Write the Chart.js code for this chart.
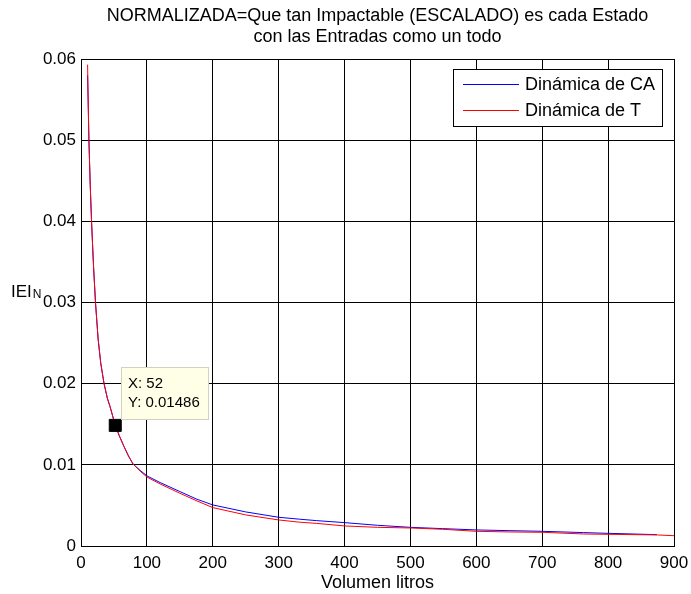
<!DOCTYPE html>
<html>
<head>
<meta charset="utf-8">
<script src="https://cdn.jsdelivr.net/npm/chart.js@4/dist/chart.umd.min.js"></script>
<style>
  body { margin: 0; background: #ffffff; }
  #wrap { width: 691px; height: 594px; }
</style>
</head>
<body>
<div id="wrap"><canvas id="chart" width="691" height="594"></canvas></div>
<script>
const titleLines = ["NORMALIZADA=Que tan Impactable (ESCALADO) es cada Estado", "con las Entradas como un todo"];

const caX = [10, 12, 14, 16, 19, 22, 26, 30, 35, 40, 44, 52, 58, 65, 72, 79, 90, 100, 120, 150, 176, 200, 250, 300, 332, 357, 400, 450, 500, 549, 600, 651, 700, 763, 800, 874];
const caY = [0.0580, 0.0500, 0.0445, 0.0400, 0.0345, 0.0300, 0.0255, 0.0225, 0.0200, 0.0182, 0.0172, 0.01486, 0.0136, 0.0123, 0.0111, 0.0101, 0.0093, 0.00864, 0.00782, 0.00671, 0.00576, 0.00506, 0.00420, 0.00354, 0.00330, 0.00313, 0.00288, 0.00255, 0.00230, 0.00214, 0.00198, 0.00189, 0.00181, 0.00165, 0.00156, 0.00140];

const tX = [10, 12, 14, 16, 19, 22, 26, 30, 35, 40, 44, 52, 58, 65, 72, 79, 90, 100, 120, 150, 176, 200, 250, 300, 332, 357, 400, 450, 500, 549, 600, 651, 700, 763, 800, 875, 900];
const tY = [0.0593, 0.0500, 0.0445, 0.0400, 0.0345, 0.0300, 0.0255, 0.0225, 0.0200, 0.0182, 0.0172, 0.01486, 0.0136, 0.0123, 0.0111, 0.0101, 0.0092, 0.00850, 0.00765, 0.00650, 0.00555, 0.00473, 0.00383, 0.00321, 0.00293, 0.00279, 0.00247, 0.00230, 0.00222, 0.00206, 0.00181, 0.00173, 0.00169, 0.00148, 0.00144, 0.00136, 0.00127];

const tipX = 52;
const tipY = 0.01486;

const xTickLabels = ["0", "100", "200", "300", "400", "500", "600", "700", "800", "900"];
const yTickLabels = ["0", "0.01", "0.02", "0.03", "0.04", "0.05", "0.06"];

const FONT = "'Liberation Sans', Arial, sans-serif";

function toPoints(xs, ys) {
    return xs.map((x, i) => ({ x: x, y: ys[i] }));
}

const legendBox = {
    id: "legendBox",
    afterDraw(chart) {
        const ctx = chart.ctx;
        const area = chart.chartArea;
        const w = 209, h = 57;
        const left = area.right - 12 - w;
        const top = area.top + 10;
        ctx.save();
        ctx.fillStyle = "#ffffff";
        ctx.fillRect(left, top, w, h);
        ctx.strokeStyle = "#000000";
        ctx.lineWidth = 1;
        ctx.strokeRect(Math.round(left) + 0.5, Math.round(top) + 0.5, w, h);
        const items = chart.data.datasets.filter(d => d.inLegend);
        items.forEach((d, i) => {
            const y = top + 15 + i * 26;
            ctx.strokeStyle = d.borderColor;
            ctx.beginPath();
            ctx.moveTo(left + 10, Math.round(y) + 0.5);
            ctx.lineTo(left + 66, Math.round(y) + 0.5);
            ctx.stroke();
            ctx.fillStyle = "#000000";
            ctx.font = "18px " + FONT;
            ctx.textBaseline = "middle";
            ctx.fillText(d.label, left + 72, y + 1);
        });
        ctx.restore();
    }
};

const yTitle = {
    id: "yTitle",
    afterDraw(chart) {
        const ctx = chart.ctx;
        ctx.save();
        ctx.fillStyle = "#000000";
        ctx.textBaseline = "alphabetic";
        ctx.font = "17px " + FONT;
        ctx.fillText("IEI", 11, 297);
        const w = ctx.measureText("IEI").width;
        ctx.font = "12px " + FONT;
        ctx.fillText("N", 11 + w + 1, 298);
        ctx.restore();
    }
};

const dataTip = {
    id: "dataTip",
    afterDraw(chart) {
        const idx = chart.data.datasets.findIndex(d => d.isTip);
        const pt = chart.getDatasetMeta(idx).data[0];
        const ds = chart.data.datasets[idx];
        const ctx = chart.ctx;
        const left = Math.round(pt.x + 5.5);
        const bottom = Math.round(pt.y - 6.5);
        const w = 87, h = 52;
        const top = bottom - h;
        ctx.save();
        ctx.fillStyle = "#ffffe8";
        ctx.fillRect(left, top, w, h);
        ctx.strokeStyle = "#d2d2c4";
        ctx.lineWidth = 1;
        ctx.strokeRect(left + 0.5, top + 0.5, w, h);
        ctx.fillStyle = "#000000";
        ctx.font = "15px " + FONT;
        ctx.textBaseline = "alphabetic";
        ctx.fillText("X: " + ds.data[0].x, left + 7, top + 21);
        ctx.fillText("Y: " + ds.data[0].y, left + 7, top + 40);
        ctx.restore();
    }
};

const ctx = document.getElementById("chart").getContext("2d");
new Chart(ctx, {
    type: "line",
    data: {
        datasets: [
            {
                label: "Dinámica de CA",
                data: toPoints(caX, caY),
                borderColor: "#0000ff",
                borderWidth: 1,
                pointRadius: 0,
                tension: 0,
                order: 2,
                inLegend: true
            },
            {
                label: "Dinámica de T",
                data: toPoints(tX, tY),
                borderColor: "#ff0000",
                borderWidth: 1,
                pointRadius: 0,
                tension: 0,
                order: 1,
                inLegend: true
            },
            {
                label: "tip",
                data: [{ x: tipX, y: tipY }],
                showLine: false,
                pointStyle: "rect",
                pointRadius: 8.5,
                backgroundColor: "#000000",
                borderColor: "#000000",
                borderWidth: 1,
                order: 0,
                isTip: true
            }
        ]
    },
    options: {
        responsive: false,
        animation: false,
        layout: { padding: { left: 0, right: 17, top: 0, bottom: 0 } },
        plugins: {
            legend: { display: false },
            tooltip: { enabled: false },
            title: {
                display: true,
                text: titleLines,
                fullSize: false,
                color: "#000000",
                font: { family: FONT, size: 18, weight: "normal", lineHeight: 1.1667 },
                padding: { top: 6, bottom: 11 }
            }
        },
        scales: {
            x: {
                type: "linear",
                min: 0,
                max: 900,
                ticks: {
                    stepSize: 100,
                    color: "#000000",
                    font: { family: FONT, size: 17 },
                    padding: 7,
                    maxRotation: 0,
                    callback: (v, i) => xTickLabels[i]
                },
                grid: { color: "#000000", lineWidth: 1, drawTicks: false },
                border: { display: true, color: "#000000", width: 1 },
                title: {
                    display: true,
                    text: "Volumen litros",
                    color: "#000000",
                    font: { family: FONT, size: 18 },
                    padding: { top: 0, bottom: 0 }
                },
                afterFit: (scale) => {
                    scale.height = 48;
                    scale.paddingLeft = 0;
                    scale.paddingRight = 0;
                }
            },
            y: {
                type: "linear",
                min: 0,
                max: 0.06,
                ticks: {
                    stepSize: 0.01,
                    color: "#000000",
                    font: { family: FONT, size: 17 },
                    padding: 5,
                    callback: (v, i) => yTickLabels[i]
                },
                grid: { color: "#000000", lineWidth: 1, drawTicks: false },
                border: { display: true, color: "#000000", width: 1 },
                afterFit: (scale) => {
                    scale.width = 81;
                    scale.paddingTop = 0;
                    scale.paddingBottom = 0;
                }
            }
        }
    },
    plugins: [legendBox, yTitle, dataTip]
});
</script>
</body>
</html>
